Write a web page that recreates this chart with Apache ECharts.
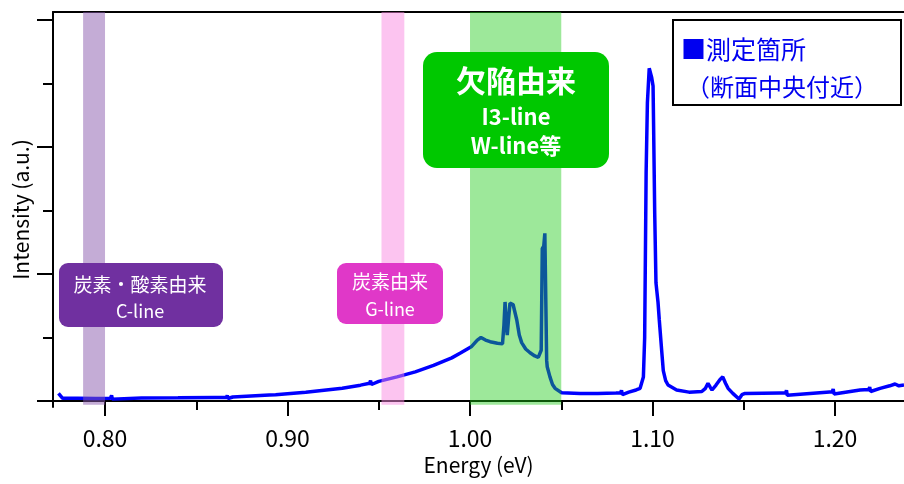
<!DOCTYPE html>
<html>
<head>
<meta charset="utf-8">
<script src="https://cdn.jsdelivr.net/npm/echarts@6/dist/echarts.min.js"></script>
<style>
html,body{margin:0;padding:0;background:#fff;}
#chart{width:904px;height:484px;}
</style>
</head>
<body>
<div id="chart"></div>
<script>
// ---- data ----
const energy = [
  0.7745, 0.7768, 0.7850, 0.7950, 0.8030, 0.8033, 0.8036, 0.8040, 0.8044,
  0.8200, 0.8400, 0.8600, 0.8665, 0.8670, 0.8674, 0.8700, 0.8800, 0.8900,
  0.8935, 0.8940, 0.8945, 0.9000, 0.9100, 0.9200, 0.9300, 0.9400, 0.9450,
  0.9455, 0.9460, 0.9500, 0.9600, 0.9700, 0.9800, 0.9900, 0.9950, 1.0009,
  1.0040, 1.0060, 1.0085, 1.0110, 1.0150, 1.0178, 1.0186, 1.0192, 1.0198,
  1.0204, 1.0212, 1.0219, 1.0236, 1.0256, 1.0270, 1.0283, 1.0305, 1.0329,
  1.0355, 1.0374, 1.0390, 1.0396, 1.0404, 1.0410, 1.0416, 1.0420, 1.0423,
  1.0438, 1.0452, 1.0466, 1.0502, 1.0603, 1.0700, 1.0800, 1.0825, 1.0830,
  1.0835, 1.0870, 1.0910, 1.0932, 1.0950, 1.0957, 1.0965, 1.0972, 1.0982,
  1.0995, 1.1003, 1.1006, 1.1012, 1.1019, 1.1030, 1.1037, 1.1050, 1.1059,
  1.1072, 1.1085, 1.1132, 1.1200, 1.1270, 1.1290, 1.1304, 1.1316, 1.1326,
  1.1348, 1.1370, 1.1385, 1.1400, 1.1414, 1.1440, 1.1474, 1.1490, 1.1507,
  1.1700, 1.1730, 1.1734, 1.1738, 1.1970, 1.1985, 1.1990, 1.1995, 1.2137,
  1.2185, 1.2190, 1.2195, 1.2247, 1.2300, 1.2329, 1.2350, 1.2378
];
const intensity = [
  0.061, 0.021, 0.022, 0.020, 0.022, 0.022, 0.045, 0.015, 0.022,
  0.024, 0.025, 0.028, 0.028, 0.045, 0.020, 0.032, 0.040, 0.048,
  0.050, 0.065, 0.040, 0.058, 0.070, 0.085, 0.100, 0.125, 0.140,
  0.160, 0.130, 0.155, 0.190, 0.230, 0.280, 0.340, 0.380, 0.430,
  0.480, 0.500, 0.480, 0.467, 0.455, 0.450, 0.600, 0.780, 0.620,
  0.520, 0.660, 0.770, 0.760, 0.640, 0.520, 0.460, 0.410, 0.380,
  0.355, 0.344, 0.400, 1.200, 1.220, 1.320, 1.320, 0.320, 0.270,
  0.190, 0.130, 0.100, 0.065, 0.060, 0.060, 0.063, 0.065, 0.085,
  0.050, 0.070, 0.087, 0.100, 0.190, 0.500, 1.800, 2.350, 2.620,
  2.550, 2.480, 2.160, 1.480, 0.930, 0.780, 0.640, 0.400, 0.240,
  0.160, 0.126, 0.087, 0.070, 0.075, 0.100, 0.140, 0.110, 0.087,
  0.126, 0.170, 0.190, 0.140, 0.100, 0.060, 0.016, 0.050, 0.060,
  0.063, 0.063, 0.085, 0.045, 0.071, 0.072, 0.095, 0.055, 0.087,
  0.090, 0.110, 0.075, 0.100, 0.120, 0.134, 0.120, 0.126
];
const xMajorTicks = [0.80, 0.90, 1.00, 1.10, 1.20];
const xMinorTicks = [0.85, 0.95, 1.05, 1.15];
const yMajorTicks = [0, 1, 2, 3];
const yMinorTicks = [0.5, 1.5, 2.5];
const bandStart = [0.788, 0.9515, 1.000];
const bandEnd   = [0.800, 0.9640, 1.050];
const bandColor = ['rgba(137,89,173,0.5)', 'rgba(249,137,225,0.5)', 'rgba(28,202,21,0.43)'];

// ---- chart ----
const X_MIN = 0.7715, X_MAX = 1.2378, Y_MIN = -0.047, Y_MAX = 3.063, BAND_BOTTOM = -0.03;
const FONT = "'Noto Sans CJK JP', 'Noto Sans', sans-serif";
const spectrum = energy.map((e, i) => [e, intensity[i]]);
const bands = bandStart.map((s, i) => [s, bandEnd[i], i]);

const chart = echarts.init(document.getElementById('chart'), null, {renderer: 'canvas'});

const axisCommon = {type: 'value', min: X_MIN, max: X_MAX, splitLine: {show: false}};
const yCommon = {type: 'value', min: Y_MIN, max: Y_MAX, splitLine: {show: false}};

const option = {
  animation: false,
  backgroundColor: '#fff',
  grid: {left: 53, right: 0, top: 12, bottom: 77, containLabel: false},
  xAxis: [
    Object.assign({}, axisCommon, {
      position: 'bottom',
      axisLine: {show: true, lineStyle: {color: '#000', width: 2}},
      axisTick: {show: true, customValues: xMajorTicks, length: 15, lineStyle: {color: '#000', width: 2}},
      axisLabel: {show: true, customValues: xMajorTicks, margin: 20,
        formatter: v => v.toFixed(2), color: '#000', fontSize: 23, fontFamily: FONT},
      name: 'Energy (eV)', nameLocation: 'middle', nameGap: 47,
      nameTextStyle: {color: '#000', fontSize: 21, fontFamily: FONT}
    }),
    Object.assign({}, axisCommon, {
      position: 'bottom',
      axisLine: {show: false},
      axisTick: {show: true, customValues: xMinorTicks, length: 9, lineStyle: {color: '#000', width: 2}},
      axisLabel: {show: false}
    }),
    Object.assign({}, axisCommon, {
      position: 'top',
      axisLine: {show: true, lineStyle: {color: '#000', width: 2}},
      axisTick: {show: false},
      axisLabel: {show: false}
    })
  ],
  yAxis: [
    Object.assign({}, yCommon, {
      position: 'left',
      axisLine: {show: true, lineStyle: {color: '#000', width: 2}},
      axisTick: {show: true, customValues: yMajorTicks, length: 16, lineStyle: {color: '#000', width: 2}},
      axisLabel: {show: false},
      name: 'Intensity (a.u.)', nameLocation: 'middle', nameGap: 21, nameRotate: 90,
      nameTextStyle: {color: '#000', fontSize: 21, fontFamily: FONT}
    }),
    Object.assign({}, yCommon, {
      position: 'left',
      axisLine: {show: false},
      axisTick: {show: true, customValues: yMinorTicks, length: 10, lineStyle: {color: '#000', width: 2}},
      axisLabel: {show: false}
    })
  ],
  series: [
    {
      type: 'line', xAxisIndex: 0, yAxisIndex: 0, z: 2,
      data: spectrum, showSymbol: false, symbol: 'none',
      lineStyle: {color: '#0000ff', width: 3.5}
    },
    {
      type: 'custom', xAxisIndex: 0, yAxisIndex: 0, z: 5, silent: true,
      data: bands,
      encode: {x: [0, 1]},
      renderItem: function (params, api) {
        const p0 = api.coord([api.value(0), Y_MAX]);
        const p1 = api.coord([api.value(1), BAND_BOTTOM]);
        return {
          type: 'rect',
          shape: {x: p0[0], y: p0[1], width: p1[0] - p0[0], height: p1[1] - p0[1]},
          style: {fill: bandColor[api.value(2)]}
        };
      }
    }
  ],
  graphic: [
    // purple box
    {type: 'rect', z: 100, shape: {x: 59, y: 263, width: 164, height: 64, r: 9}, style: {fill: '#7030a0'}},
    {type: 'text', z: 101, style: {text: '炭素・酸素由来', x: 140, y: 285, align: 'center', verticalAlign: 'middle', fill: '#fff', fontSize: 19, fontFamily: FONT}},
    {type: 'text', z: 101, style: {text: 'C-line', x: 140, y: 311, align: 'center', verticalAlign: 'middle', fill: '#fff', fontSize: 18, fontFamily: FONT}},
    // pink box
    {type: 'rect', z: 100, shape: {x: 337, y: 263, width: 106, height: 61, r: 9}, style: {fill: '#e038c8'}},
    {type: 'text', z: 101, style: {text: '炭素由来', x: 390, y: 282, align: 'center', verticalAlign: 'middle', fill: '#fff', fontSize: 19, fontFamily: FONT}},
    {type: 'text', z: 101, style: {text: 'G-line', x: 390, y: 309, align: 'center', verticalAlign: 'middle', fill: '#fff', fontSize: 18, fontFamily: FONT}},
    // green box
    {type: 'rect', z: 100, shape: {x: 423, y: 52, width: 186, height: 116, r: 14}, style: {fill: '#00c800'}},
    {type: 'text', z: 101, style: {text: '欠陥由来', x: 516, y: 81, align: 'center', verticalAlign: 'middle', fill: '#fff', fontSize: 30, fontWeight: 'bold', fontFamily: FONT}},
    {type: 'text', z: 101, style: {text: 'I3-line', x: 516, y: 117, align: 'center', verticalAlign: 'middle', fill: '#fff', fontSize: 22, fontWeight: 'bold', fontFamily: FONT}},
    {type: 'text', z: 101, style: {text: 'W-line等', x: 516, y: 146, align: 'center', verticalAlign: 'middle', fill: '#fff', fontSize: 22, fontWeight: 'bold', fontFamily: FONT}},
    // legend box
    {type: 'rect', z: 100, shape: {x: 673, y: 20, width: 228, height: 85}, style: {fill: '#fff', stroke: '#000', lineWidth: 2}},
    {type: 'text', z: 101, style: {text: '■測定箇所', x: 681, y: 49, align: 'left', verticalAlign: 'middle', fill: '#0000f0', fontSize: 25, fontFamily: FONT}},
    {type: 'text', z: 101, style: {text: '（断面中央付近）', x: 686, y: 87, align: 'left', verticalAlign: 'middle', fill: '#0000f0', fontSize: 24, fontFamily: FONT}}
  ]
};
chart.setOption(option);
</script>
</body>
</html>
